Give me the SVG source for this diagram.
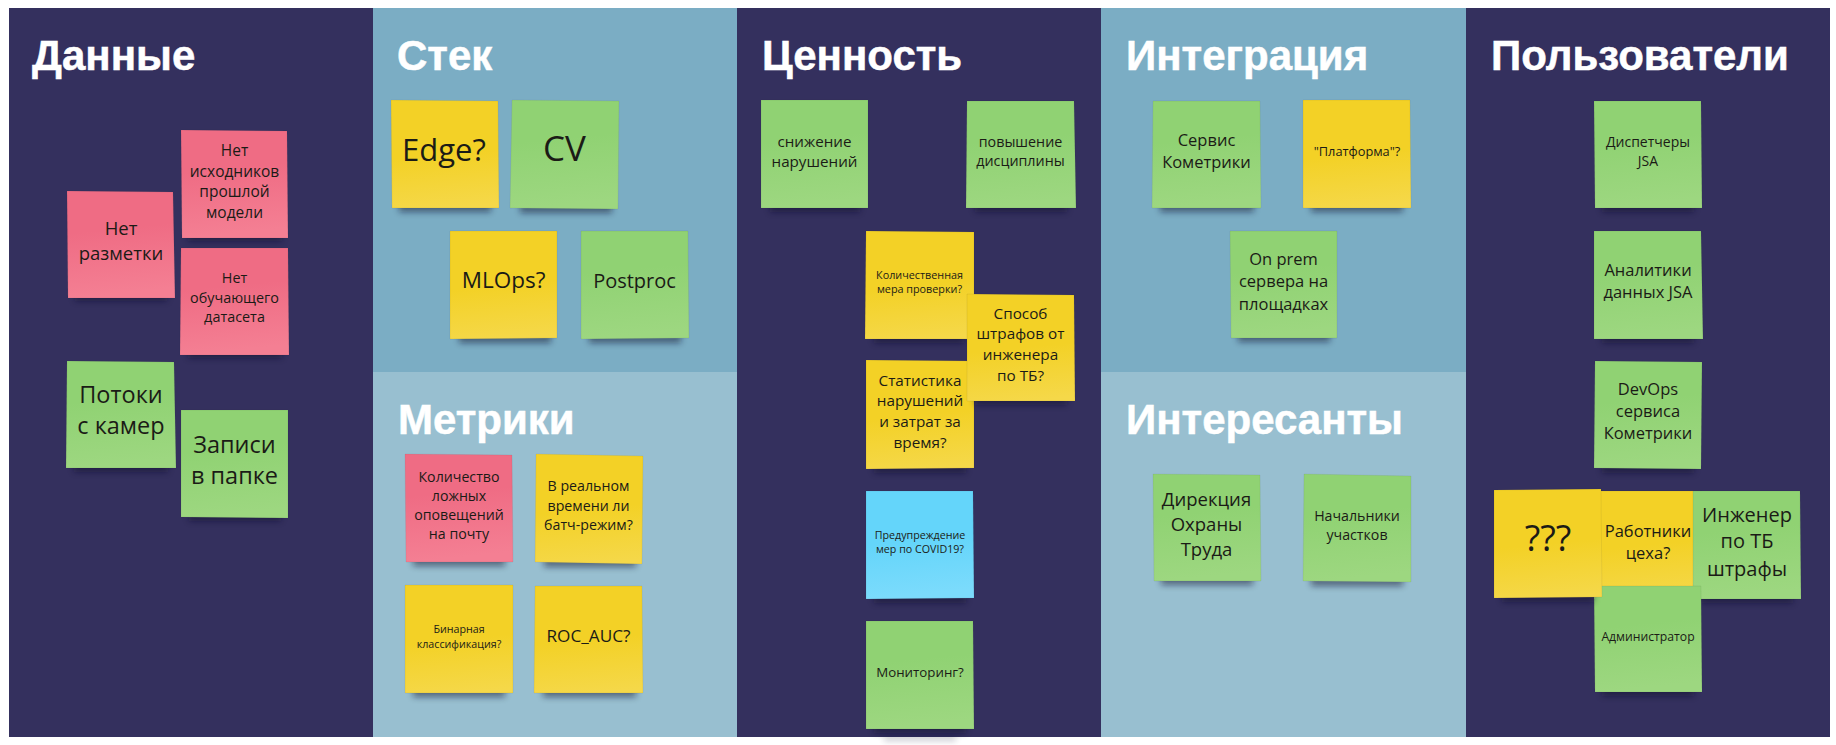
<svg xmlns="http://www.w3.org/2000/svg" width="1836" height="745" viewBox="0 0 1836 745">
<style>
.h{font:bold 42px "Liberation Sans",Arial,sans-serif;fill:#fff;stroke:#fff;stroke-width:.5}
.t{font-family:"Open Sans","Noto Sans",sans-serif;fill:#1b1b16;text-anchor:middle}
.n{stroke:rgba(40,40,40,.12);stroke-width:.6}
.g{fill:url(#gg)}.y{fill:url(#gy)}.p{fill:url(#gp)}.b{fill:url(#gb)}
.s{fill:#10102a;opacity:.5;filter:url(#bl)}
</style>
<defs>
<linearGradient id="gg" x1="0.45" y1="0" x2="0.55" y2="1"><stop offset="0.35" stop-color="#90d273"/><stop offset="0.95" stop-color="#9dd780"/></linearGradient>
<linearGradient id="gy" x1="0.45" y1="0" x2="0.55" y2="1"><stop offset="0.5" stop-color="#f3d126"/><stop offset="1" stop-color="#f5d849"/></linearGradient>
<linearGradient id="gp" x1="0.45" y1="0" x2="0.55" y2="1"><stop offset="0.35" stop-color="#ef6c84"/><stop offset="0.95" stop-color="#f47f93"/></linearGradient>
<linearGradient id="gb" x1="0.45" y1="0" x2="0.55" y2="1"><stop offset="0.45" stop-color="#64d5fa"/><stop offset="0.95" stop-color="#7bdbfc"/></linearGradient>
<filter id="bl" x="-20%" y="-100%" width="140%" height="300%"><feGaussianBlur stdDeviation="3"/></filter>
</defs>
<rect width="1836" height="745" fill="#fff"/>
<g id="panels">
<rect x="9" y="8" width="364" height="729" fill="#34305e"/>
<rect x="373" y="8" width="364" height="364" fill="#7badc4"/>
<rect x="373" y="372" width="364" height="365" fill="#98bfd0"/>
<rect x="737" y="8" width="364" height="729" fill="#34305e"/>
<rect x="1101" y="8" width="365" height="364" fill="#7badc4"/>
<rect x="1101" y="372" width="365" height="365" fill="#98bfd0"/>
<rect x="1466" y="8" width="364" height="729" fill="#34305e"/>
</g>
<g id="titles">
<text class="h" x="32" y="70">Данные</text>
<text class="h" x="397" y="70">Стек</text>
<text class="h" x="762" y="70">Ценность</text>
<text class="h" x="1126" y="70">Интеграция</text>
<text class="h" x="1491" y="70">Пользователи</text>
<text class="h" x="398" y="434">Метрики</text>
<text class="h" x="1126" y="434">Интересанты</text>
</g>
<g id="n-ishodniki"><rect class="s" x="188" y="232" width="94" height="9"/><polygon class="n p" points="181,130 287,131 288,238 182,238"/><text class="t" font-size="15.5"><tspan x="234.500" y="155.700">Нет</tspan><tspan x="234.500" y="176.700">исходников</tspan><tspan x="234.500" y="197.300">прошлой</tspan><tspan x="234.500" y="218">модели</tspan></text></g>
<g id="n-razmetka"><rect class="s" x="75" y="292" width="92" height="9"/><polygon class="n p" points="67,191 173,192 175,298 68,298"/><text class="t" font-size="18.500"><tspan x="121" y="235">Нет</tspan><tspan x="121" y="260">разметки</tspan></text></g>
<g id="n-dataset"><rect class="s" x="188" y="349" width="94" height="9"/><polygon class="n p" points="181,248 288,248 289,355 180,355"/><text class="t" font-size="14.400"><tspan x="234.500" y="283.300">Нет</tspan><tspan x="234.500" y="302.700">обучающего</tspan><tspan x="234.500" y="321.700">датасета</tspan></text></g>
<g id="n-potoki"><rect class="s" x="74" y="463" width="94" height="9"/><polygon class="n g" points="67,361 174,362 176,468 66,468"/><text class="t" font-size="23.500"><tspan x="121" y="402.700">Потоки</tspan><tspan x="121" y="434.300">с камер</tspan></text></g>
<g id="n-zapisi"><rect class="s" x="189" y="512" width="92" height="9"/><polygon class="n g" points="181,410 288,410 288,518 181,517"/><text class="t" font-size="23.500"><tspan x="234.500" y="452.700">Записи</tspan><tspan x="234.500" y="484">в папке</tspan></text></g>
<g id="n-edge"><rect class="s" x="399" y="203" width="92" height="9"/><polygon class="n y" points="391,100 498,101 499,208 392,208"/><text class="t" font-size="31"><tspan x="444" y="160.700">Edge?</tspan></text></g>
<g id="n-cv"><rect class="s" x="520" y="204" width="92" height="9"/><polygon class="n g" points="512,100 619,101 618,209 510,208"/><text class="t" font-size="35"><tspan x="564.500" y="160.700">CV</tspan></text></g>
<g id="n-mlops"><rect class="s" x="459" y="334" width="92" height="9"/><polygon class="n y" points="450,231 557,231 557,338 450,339"/><text class="t" font-size="22.500"><tspan x="503.500" y="288">MLOps?</tspan></text></g>
<g id="n-postproc"><rect class="s" x="589" y="334" width="92" height="9"/><polygon class="n g" points="581,231 688,231 689,338 581,339"/><text class="t" font-size="20"><tspan x="634.500" y="288">Postproc</tspan></text></g>
<g id="n-kolichestvo"><rect class="s" x="413" y="557" width="92" height="9"/><polygon class="n p" points="405,454 512,455 513,562 406,562"/><text class="t" font-size="14.200"><tspan x="459" y="481.700">Количество</tspan><tspan x="459" y="501">ложных</tspan><tspan x="459" y="519.700">оповещений</tspan><tspan x="459" y="539">на почту</tspan></text></g>
<g id="n-realtime"><rect class="s" x="544" y="558" width="92" height="9"/><polygon class="n y" points="536,454 643,456 642,564 535,562"/><text class="t" font-size="14.200"><tspan x="588.500" y="491.300">В реальном</tspan><tspan x="588.500" y="510.700">времени ли</tspan><tspan x="588.500" y="529.700">батч-режим?</tspan></text></g>
<g id="n-binary"><rect class="s" x="413" y="688" width="92" height="9"/><polygon class="n y" points="405,585 513,585 513,693 405,693"/><text class="t" font-size="10.700"><tspan x="459" y="633.300">Бинарная</tspan><tspan x="459" y="647.700">классификация?</tspan></text></g>
<g id="n-roc"><rect class="s" x="543" y="688" width="93" height="9"/><polygon class="n y" points="535,586 642,586 643,693 534,693"/><text class="t" font-size="17.200"><tspan x="588.500" y="642.300">ROC_AUC?</tspan></text></g>
<g id="n-snizhenie"><rect class="s" x="770" y="203" width="90" height="9"/><polygon class="n g" points="761,100 868,100 868,208 761,208"/><text class="t" font-size="15.200"><tspan x="814.500" y="146.700">снижение</tspan><tspan x="814.500" y="166.700">нарушений</tspan></text></g>
<g id="n-povyshenie"><rect class="s" x="975" y="203" width="92" height="9"/><polygon class="n g" points="967,101 1074,101 1076,208 966,208"/><text class="t" font-size="14.300"><tspan x="1020.500" y="146.700">повышение</tspan><tspan x="1020.500" y="166">дисциплины</tspan></text></g>
<g id="n-mera"><rect class="s" x="874" y="334" width="90" height="9"/><polygon class="n y" points="866,231 974,232 974,339 865,339"/><text class="t" font-size="10.800"><tspan x="919.500" y="278.700">Количественная</tspan><tspan x="919.500" y="293.300">мера проверки?</tspan></text></g>
<g id="n-statistika"><rect class="s" x="874" y="464" width="92" height="9"/><polygon class="n y" points="866,360 974,361 974,468 866,469"/><text class="t" font-size="15.300"><tspan x="920" y="386">Статистика</tspan><tspan x="920" y="406">нарушений</tspan><tspan x="920" y="426.700">и затрат за</tspan><tspan x="920" y="447.700">время?</tspan></text></g>
<g id="n-sposob"><rect class="s" x="975" y="396" width="92" height="9"/><polygon class="n y" points="967,294 1074,295 1075,401 967,401"/><text class="t" font-size="15.300"><tspan x="1020.500" y="319">Способ</tspan><tspan x="1020.500" y="339.300">штрафов от</tspan><tspan x="1020.500" y="360">инженера</tspan><tspan x="1020.500" y="380.700">по ТБ?</tspan></text></g>
<g id="n-covid"><rect class="s" x="874" y="594" width="92" height="9"/><polygon class="n b" points="866,491 973,491 974,598 866,599"/><text class="t" font-size="10.700"><tspan x="920" y="539.300">Предупреждение</tspan><tspan x="920" y="553.300">мер по COVID19?</tspan></text></g>
<g id="n-monitoring"><rect class="s" x="884" y="736" width="72" height="5" style="opacity:.22"/><rect class="s" x="874" y="724" width="92" height="9"/><polygon class="n g" points="866,621 973,621 974,729 866,729"/><text class="t" font-size="13.300"><tspan x="920" y="677.300">Мониторинг?</tspan></text></g>
<g id="n-servis"><rect class="s" x="1160" y="203" width="94" height="9"/><polygon class="n g" points="1153,101 1260,101 1261,208 1152,208"/><text class="t" font-size="16.500"><tspan x="1206.500" y="145.700">Сервис</tspan><tspan x="1206.500" y="168.300">Кометрики</tspan></text></g>
<g id="n-platforma"><rect class="s" x="1311" y="203" width="92" height="9"/><polygon class="n y" points="1303,100 1410,100 1411,208 1303,208"/><text class="t" font-size="12.800"><tspan x="1357" y="155.700">"Платформа"?</tspan></text></g>
<g id="n-onprem"><rect class="s" x="1238" y="333" width="92" height="9"/><polygon class="n g" points="1230,231 1337,231 1337,338 1231,338"/><text class="t" font-size="16.500"><tspan x="1283.500" y="265">On prem</tspan><tspan x="1283.500" y="287.300">сервера на</tspan><tspan x="1283.500" y="310">площадках</tspan></text></g>
<g id="n-direkciya"><rect class="s" x="1161" y="576" width="92" height="9"/><polygon class="n g" points="1153,474 1260,475 1261,581 1154,581"/><text class="t" font-size="18.500"><tspan x="1206.500" y="506">Дирекция</tspan><tspan x="1206.500" y="531">Охраны</tspan><tspan x="1206.500" y="556">Труда</tspan></text></g>
<g id="n-nachalniki"><rect class="s" x="1311" y="577" width="92" height="9"/><polygon class="n g" points="1304,474 1411,476 1411,582 1303,581"/><text class="t" font-size="14.200"><tspan x="1357" y="521">Начальники</tspan><tspan x="1357" y="540">участков</tspan></text></g>
<g id="n-dispetchery"><rect class="s" x="1602" y="203" width="92" height="9"/><polygon class="n g" points="1594,101 1701,101 1702,208 1595,208"/><text class="t" font-size="14"><tspan x="1648" y="146.700">Диспетчеры</tspan><tspan x="1648" y="165.700">JSA</tspan></text></g>
<g id="n-analitiki"><rect class="s" x="1602" y="334" width="92" height="9"/><polygon class="n g" points="1594,231 1701,231 1703,339 1594,339"/><text class="t" font-size="16.500"><tspan x="1648" y="276">Аналитики</tspan><tspan x="1648" y="298.300">данных JSA</tspan></text></g>
<g id="n-devops"><rect class="s" x="1602" y="464" width="92" height="9"/><polygon class="n g" points="1595,361 1702,362 1701,469 1594,468"/><text class="t" font-size="16.500"><tspan x="1648" y="395">DevOps</tspan><tspan x="1648" y="417">сервиса</tspan><tspan x="1648" y="439.300">Кометрики</tspan></text></g>
<g id="n-rabotniki"><polygon class="n y" points="1594,491 1702,491 1702,599 1594,599"/><text class="t" font-size="16.500"><tspan x="1648" y="536.700">Работники</tspan><tspan x="1648" y="559">цеха?</tspan></text></g>
<g id="n-inzhener"><rect class="s" x="1701" y="594" width="92" height="9"/><polygon class="n g" points="1693,491 1800,491 1801,599 1693,599"/><text class="t" font-size="20"><tspan x="1747" y="521.700">Инженер</tspan><tspan x="1747" y="548.300">по ТБ</tspan><tspan x="1747" y="575.700">штрафы</tspan></text></g>
<g id="n-admin"><rect class="s" x="1602" y="687" width="92" height="9"/><polygon class="n g" points="1594,586 1701,586 1702,692 1595,692"/><text class="t" font-size="12.200"><tspan x="1648" y="641">Администратор</tspan></text></g>
<g id="n-unknown"><rect class="s" x="1502" y="593" width="92" height="9"/><polygon class="n y" points="1494,490 1601,489 1602,597 1494,598"/><text class="t" font-size="36"><tspan x="1548" y="551">???</tspan></text></g>
</svg>
